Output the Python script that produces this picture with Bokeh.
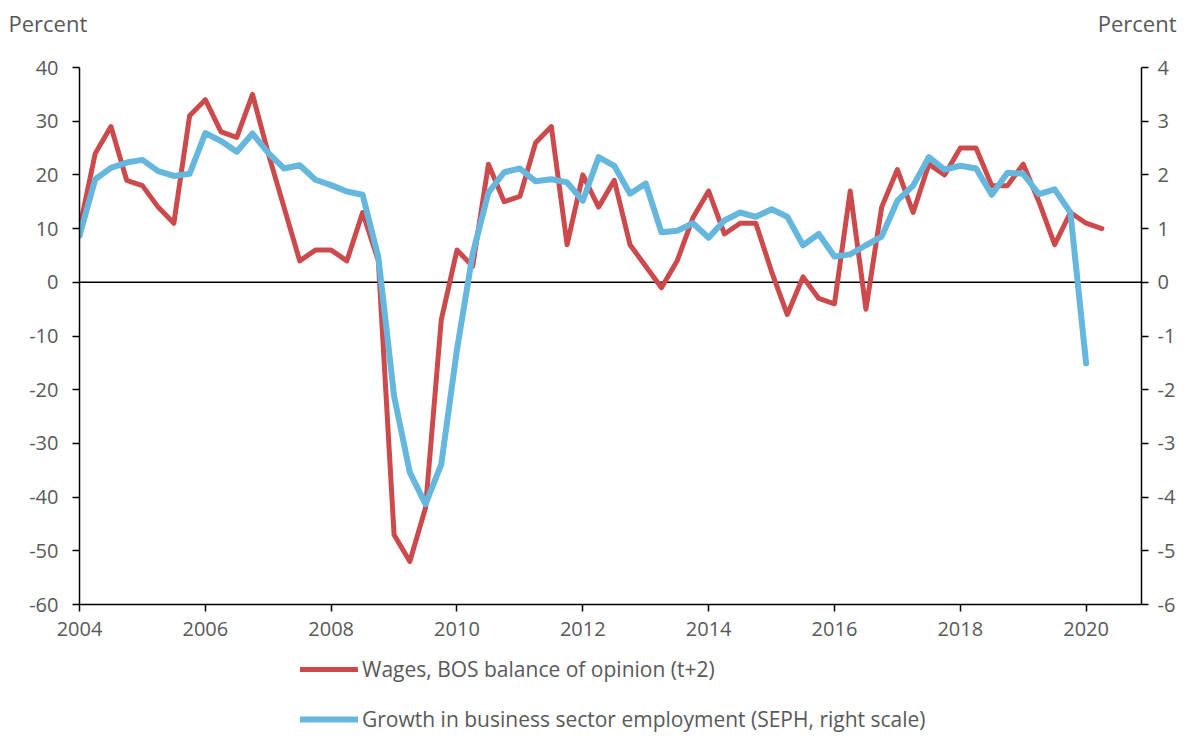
from bokeh.plotting import figure
from bokeh.layouts import column
from bokeh.models import (Range1d, LinearAxis, FixedTicker, Span, Label, Legend,
                          LegendItem, ColumnDataSource)
from bokeh.embed import file_html
from bokeh.resources import INLINE

# ---- data (quarterly, 2004Q1 onwards) ----
quarters_wages = [f"{y}Q{q}" for y in range(2004, 2021) for q in range(1, 5)][:66]
wages_bos = [10, 24, 29, 19, 18, 14, 11, 31, 34, 28, 27, 35, 24, 14, 4, 6, 6, 4, 13, 4,
             -47, -52, -42, -7, 6, 3, 22, 15, 16, 26, 29, 7,
             20, 14, 19, 7, 3, -1, 4, 12, 17, 9, 11, 11,
             2, -6, 1, -3, -4, 17, -5, 14, 21, 13, 22, 20,
             25, 25, 18, 18, 22, 15, 7, 13, 11, 10]
quarters_emp = quarters_wages[:65]
emp_growth = [0.87, 1.92, 2.13, 2.23, 2.28, 2.07, 1.98, 2.02, 2.78, 2.63, 2.43, 2.77,
              2.41, 2.12, 2.18, 1.91, 1.81, 1.69, 1.63, 0.47,
              -2.12, -3.54, -4.13, -3.39, -1.25, 0.53, 1.67, 2.05, 2.12, 1.88, 1.92, 1.86,
              1.52, 2.33, 2.17, 1.65, 1.84, 0.93, 0.96, 1.10, 0.83, 1.15, 1.30, 1.22,
              1.36, 1.22, 0.69, 0.90, 0.48, 0.52, 0.69, 0.85, 1.52, 1.80, 2.33, 2.10,
              2.17, 2.12, 1.63, 2.04, 2.02, 1.64, 1.73, 1.30, -1.51]
x_ticks = [2004, 2006, 2008, 2010, 2012, 2014, 2016, 2018, 2020]
left_ticks = [40, 30, 20, 10, 0, -10, -20, -30, -40, -50, -60]
right_ticks = [4, 3, 2, 1, 0, -1, -2, -3, -4, -5, -6]
series_labels = ["Wages, BOS balance of opinion (t+2)",
                 "Growth in business sector employment (SEPH, right scale)"]
axis_title = "Percent"


def q_to_year(q):
    return int(q[:4]) + (int(q[5]) - 1) * 0.25


RED = "#CC4A4C"
BLUE = "#65B7DD"
GREY = "#595959"
FONT = "Open Sans"
W = 1178

src_w = ColumnDataSource(dict(x=[q_to_year(q) for q in quarters_wages], y=wages_bos))
src_e = ColumnDataSource(dict(x=[q_to_year(q) for q in quarters_emp], y=emp_growth))

# ---------- main chart ----------
p = figure(width=W, height=650, output_backend="svg", toolbar_location=None,
           x_range=Range1d(2004, 2020.88), y_range=Range1d(-60, 40),
           min_border_left=79, min_border_right=34, min_border_top=67,
           min_border_bottom=46)
p.extra_y_ranges = {"right": Range1d(-6, 4)}
p.outline_line_color = None
p.xgrid.grid_line_color = None
p.ygrid.grid_line_color = None


def style_axis(ax, standoff):
    ax.axis_line_color = "black"
    ax.axis_line_width = 1.5
    ax.major_tick_line_color = "black"
    ax.major_tick_line_width = 1.5
    ax.major_tick_in = 0
    ax.major_tick_out = 7
    ax.minor_tick_line_color = None
    ax.major_label_text_color = GREY
    ax.major_label_text_font = FONT
    ax.major_label_text_font_size = "20px"
    ax.major_label_standoff = standoff


p.xaxis.ticker = FixedTicker(ticks=x_ticks)
style_axis(p.xaxis[0], 10)
p.yaxis.ticker = FixedTicker(ticks=left_ticks)
p.yaxis.major_label_overrides = {t: str(t) for t in left_ticks}
style_axis(p.yaxis[0], 14)

raxis = LinearAxis(y_range_name="right", ticker=FixedTicker(ticks=right_ticks),
                   major_label_overrides={t: str(t) for t in right_ticks})
style_axis(raxis, 9)
p.add_layout(raxis, "right")

p.add_layout(Span(location=0, dimension="width", line_color="black", line_width=1.5,
                  level="underlay"))

p.line("x", "y", source=src_w, line_color=RED, line_width=5,
       line_join="round", line_cap="round")
p.line("x", "y", source=src_e, line_color=BLUE, line_width=6,
       line_join="round", line_cap="round", y_range_name="right")

# "Percent" titles above each value axis
lbl_l = Label(x=-71, y=45, x_units="screen", y_units="screen", text=axis_title,
              text_font=FONT, text_font_size="22px", text_color=GREY,
              text_align="left", text_baseline="middle")
lbl_r = Label(x=W - 2 - 79, y=15, x_units="screen", y_units="screen", text=axis_title,
              text_font=FONT, text_font_size="22px", text_color=GREY,
              text_align="right", text_baseline="middle")
p.add_layout(lbl_l, "above")
p.add_layout(lbl_r, "above")

# ---------- legend strip ----------
leg = figure(width=W, height=83, output_backend="svg", toolbar_location=None,
             x_range=Range1d(0, 1), y_range=Range1d(0, 1),
             x_axis_type=None, y_axis_type=None, min_border=0)
leg.outline_line_color = None
leg.xgrid.grid_line_color = None
leg.ygrid.grid_line_color = None
# same series drawn here only to carry the legend swatches (outside this strip's view)
lw = leg.line("x", "y", source=src_w, line_color=RED, line_width=5, line_cap="round")
le = leg.line("x", "y", source=src_e, line_color=BLUE, line_width=6, line_cap="round")
legend = Legend(items=[LegendItem(label=series_labels[0], renderers=[lw]),
                       LegendItem(label=series_labels[1], renderers=[le])],
                location=(221, 0), orientation="vertical",
                glyph_width=58, glyph_height=20, label_height=20, label_standoff=4,
                spacing=22, padding=0, margin=0,
                border_line_color=None, background_fill_alpha=0,
                label_text_font=FONT, label_text_font_size="21px",
                label_text_color=GREY)
leg.add_layout(legend)

layout = column(p, leg, spacing=0)
open("out.html", "w").write(file_html(layout, INLINE))
